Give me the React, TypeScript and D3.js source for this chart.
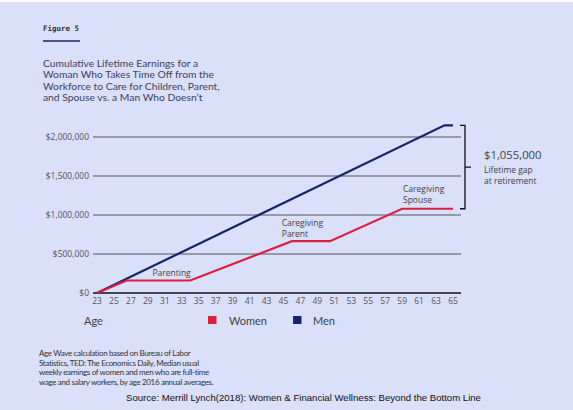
import React from "react";
import * as d3 from "d3";

const width = 573,
  height = 410;

// cumulative earnings: [age, dollars]
const womenAges = [23, 26.5, 34, 46, 50.5, 59, 65];
const womenValues = [0, 160000, 160000, 665000, 665000, 1080000, 1080000];
const menAges = [23, 64, 65];
const menValues = [0, 2150000, 2150000];

const yTicks = [0, 500000, 1000000, 1500000, 2000000];
const xTicks = d3.range(23, 66, 2);

const titleLines = [
  "Cumulative Lifetime Earnings for a",
  "Woman Who Takes Time Off from the",
  "Workforce to Care for Children, Parent,",
  "and Spouse vs. a Man Who Doesn\u2019t",
];
const noteLines = [
  "Age Wave calculation based on Bureau of Labor",
  "Statistics, TED: The Economics Daily, Median usual",
  "weekly earnings of women and men who are full-time",
  "wage and salary workers, by age 2016 annual averages.",
];
const gapLabel = "$1,055,000";
const gapSub = ["Lifetime gap", "at retirement"];

const navy = "#13266b";
const red = "#dc1f3f";
const bg = "#dadffa";
const font = "'Open Sans', 'Noto Sans', sans-serif";
const narrow = "Lato, 'Open Sans', sans-serif";

const x = d3.scaleLinear().domain([23, 65]).range([97, 453]);
const y = d3.scaleLinear().domain([0, 2000000]).range([293, 137]);

const line = d3
  .line<[number, number]>()
  .x((d) => x(d[0]))
  .y((d) => y(d[1]));

const women = womenAges.map((a, i) => [a, womenValues[i]] as [number, number]);
const men = menAges.map((a, i) => [a, menValues[i]] as [number, number]);

export default function App() {
  React.useEffect(() => {
    document.body.style.margin = "0";
  }, []);

  const fmt = (v: number) => "$" + d3.format(",")(v);
  const menTop = y(menValues[menValues.length - 1]);
  const womenTop = y(womenValues[womenValues.length - 1]);
  const bx = 465;

  return (
    <svg width={width} height={height} style={{ display: "block" }}>
      <rect width={width} height={height} fill={bg} />
      <rect width={width} height={2} fill="#ffffff" />

      {/* header */}
      <text x={43} y={31} fontFamily="'DejaVu Sans Mono', monospace" fontSize={7.5} fontWeight="bold" fill="#333">
        Figure 5
      </text>
      <line x1={43} x2={80} y1={41} y2={41} stroke={navy} strokeWidth={1.5} />
      {titleLines.map((t, i) => (
        <text key={i} x={43} y={67 + i * 11.4} fontFamily={narrow} fontSize={10.3} fill="#3e4160">
          {t}
        </text>
      ))}

      {/* grid + y axis */}
      {yTicks.map((v) => (
        <g key={v}>
          <line x1={93} x2={461} y1={y(v)} y2={y(v)} stroke={v === 0 ? "#111" : "#555"} strokeWidth={v === 0 ? 1.3 : 1} />
          <text x={89} y={y(v) + 3} textAnchor="end" fontFamily={font} fontSize={8.5} fill="#555">
            {fmt(v)}
          </text>
        </g>
      ))}
      {xTicks.map((a) => (
        <text key={a} x={x(a)} y={304} textAnchor="middle" fontFamily={font} fontSize={8.5} fill="#555">
          {a}
        </text>
      ))}

      {/* series */}
      <path d={line(men) ?? ""} fill="none" stroke={navy} strokeWidth={2.2} />
      <path d={line(women) ?? ""} fill="none" stroke={red} strokeWidth={2.2} />

      {/* annotations */}
      <text x={x(31.8)} y={276} textAnchor="middle" fontFamily={font} fontSize={8.5} fill="#444">
        Parenting
      </text>
      <text x={x(44.8)} y={226} fontFamily={font} fontSize={8.5} fill="#444">
        <tspan x={x(44.8)}>Caregiving</tspan>
        <tspan x={x(44.8)} dy={10.5}>Parent</tspan>
      </text>
      <text x={x(59.1)} y={192} fontFamily={font} fontSize={8.5} fill="#444">
        <tspan x={x(59.1)}>Caregiving</tspan>
        <tspan x={x(59.1)} dy={10.5}>Spouse</tspan>
      </text>

      {/* gap bracket */}
      <path
        d={`M${bx - 5},${menTop}H${bx}V${womenTop}H${bx - 5}M${bx},${(menTop + womenTop) / 2}H${bx + 6}`}
        fill="none"
        stroke="#111"
        strokeWidth={1.3}
      />
      <text x={484} y={159} fontFamily={font} fontSize={11.3} fill="#444">
        {gapLabel}
      </text>
      {gapSub.map((t, i) => (
        <text key={t} x={484} y={173 + i * 11} fontFamily={font} fontSize={8.5} fill="#444">
          {t}
        </text>
      ))}

      {/* legend */}
      <text x={84} y={325} fontFamily={narrow} fontSize={11} fill="#444">
        Age
      </text>
      <rect x={208} y={316} width={8.5} height={8} fill={red} />
      <text x={229} y={325} fontFamily={narrow} fontSize={11} fill="#444">
        Women
      </text>
      <rect x={293} y={316} width={8.5} height={8} fill={navy} />
      <text x={313} y={325} fontFamily={narrow} fontSize={11} fill="#444">
        Men
      </text>

      {/* notes */}
      {noteLines.map((t, i) => (
        <text key={i} x={39} y={356 + i * 9.5} fontFamily={narrow} fontSize={8} fill="#333" letterSpacing={-0.35}>
          {t}
        </text>
      ))}
      <text x={126} y={401} fontFamily="'Liberation Sans', Arial, sans-serif" fontSize={9.6} fill="#111">
        Source: Merrill Lynch(2018): Women &amp; Financial Wellness: Beyond the Bottom Line
      </text>
    </svg>
  );
}
